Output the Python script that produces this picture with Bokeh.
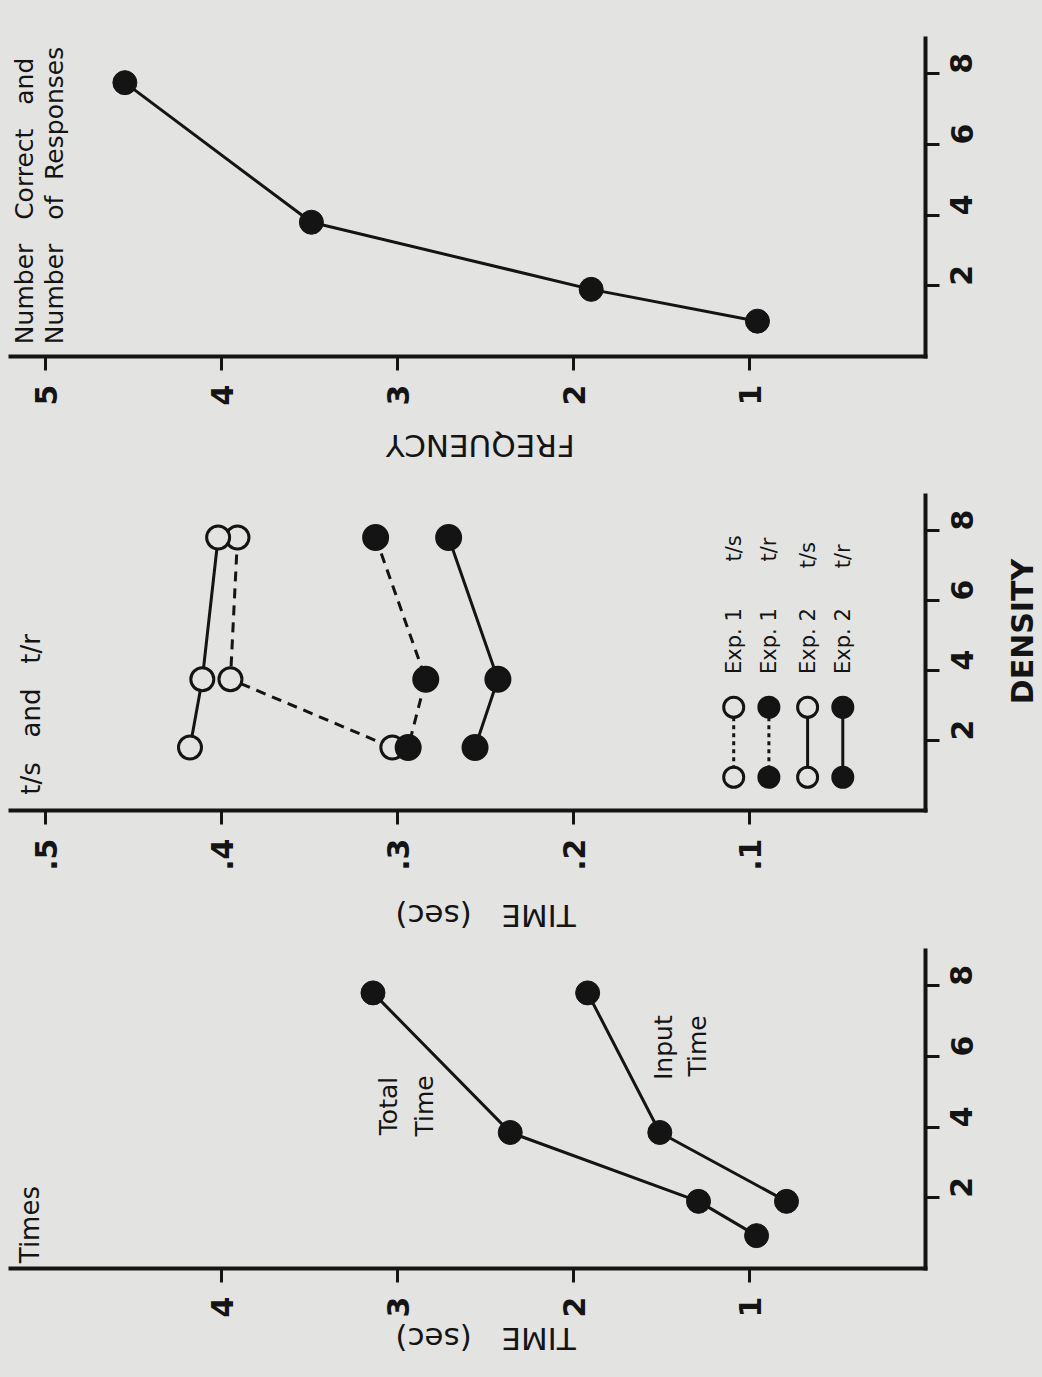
import math
from bokeh.plotting import figure
from bokeh.layouts import column, row
from bokeh.models import Range1d, FixedTicker, Label, CustomJSTickFormatter
from bokeh.embed import file_html
from bokeh.resources import INLINE

# ---------------- data ----------------
# Panel 1: Number Correct and Number of Responses vs density
freq_density = [7.75, 3.8, 1.9, 1.0]
freq_values = [4.55, 3.49, 1.90, 0.955]

# Panel 2: t/s and t/r (sec) vs density
ratio_density = [7.8, 3.75, 1.8]
exp1_ts = [0.391, 0.395, 0.303]
exp1_tr = [0.3125, 0.284, 0.294]
exp2_ts = [0.402, 0.411, 0.418]
exp2_tr = [0.271, 0.243, 0.256]

# Panel 3: Times (sec) vs density
total_density = [7.8, 3.85, 1.9, 0.93]
total_time = [3.14, 2.36, 1.29, 0.96]
input_density = [7.8, 3.85, 1.9]
input_time = [1.92, 1.51, 0.79]

density_ticks = [2, 4, 6, 8]
freq_ticks = [1, 2, 3, 4, 5]
ratio_ticks = [0.1, 0.2, 0.3, 0.4, 0.5]
time_ticks = [1, 2, 3, 4]

NB = "\u00a0"
legend_names = ["Exp. 1" + NB * 7 + "t/s",
                "Exp. 1" + NB * 7 + "t/r",
                "Exp. 2" + NB * 6 + "t/s",
                "Exp. 2" + NB * 6 + "t/r"]

# ---------------- style ----------------
BG = "#e3e3e1"
INK = "#141414"
FONT = "DejaVu Sans"


def panel(width, height, top, bottom, right, xmax, xticks):
    p = figure(width=width, height=height, x_range=Range1d(xmax, 0), y_range=Range1d(0, 9),
               y_axis_location="right", output_backend="svg", toolbar_location=None,
               min_border_left=10, min_border_right=right, min_border_top=top,
               min_border_bottom=bottom)
    p.background_fill_color = BG
    p.border_fill_color = BG
    p.outline_line_color = None
    p.grid.visible = False
    for ax in (p.xaxis[0], p.yaxis[0]):
        ax.axis_line_width = 4
        ax.axis_line_color = INK
        ax.axis_line_cap = "square"
        ax.major_tick_line_width = 3
        ax.major_tick_line_color = INK
        ax.major_tick_in = 0
        ax.major_tick_out = 14
        ax.minor_tick_line_color = None
        ax.major_label_text_font = FONT
        ax.major_label_text_font_size = "30px"
        ax.major_label_text_font_style = "bold"
        ax.major_label_text_color = INK
        ax.major_label_orientation = math.pi / 2
    xa = p.xaxis[0]
    xa.ticker = FixedTicker(ticks=xticks)
    xa.major_label_standoff = 14
    ya = p.yaxis[0]
    ya.ticker = FixedTicker(ticks=density_ticks)
    ya.major_label_standoff = 22
    return p


def strip(width, height):
    s = figure(width=width, height=height, x_range=Range1d(0, width), y_range=Range1d(0, height),
               x_axis_location=None, y_axis_location=None, output_backend="svg",
               toolbar_location=None, min_border=0)
    s.background_fill_color = BG
    s.border_fill_color = BG
    s.outline_line_color = None
    s.grid.visible = False
    return s


def txt(p, x, y, s, size="25px", align="center", angle=math.pi / 2, style="normal"):
    p.add_layout(Label(x=x, y=y, text=s, angle=angle, text_font=FONT,
                       text_font_size=size, text_color=INK, text_align=align,
                       text_baseline="middle", text_font_style=style))


# ---------------- panel 1 ----------------
p1 = panel(1042, 410, 38, 54, 117, 5.2, freq_ticks)
p1.line(freq_values, freq_density, line_color=INK, line_width=3)
p1.scatter(freq_values, freq_density, size=24, fill_color=INK, line_color=INK)
txt(p1, 5.12, 0.35, "Number" + NB * 3 + "Correct" + NB * 3 + "and", "25px", "left")
txt(p1, 4.95, 0.35, "Number" + NB * 3 + "of" + NB * 2 + "Responses", "25px", "left")

s1 = strip(1042, 60)
txt(s1, 535, 25, "FREQUENCY", "31px", angle=math.pi)

# ---------------- panel 2 ----------------
p2 = panel(1000, 403, 25, 60, 75, 0.52, ratio_ticks)
p2.xaxis[0].formatter = CustomJSTickFormatter(code="return tick.toFixed(1).replace(/^0/, '')")
series = [
    (exp1_ts, "10 7", False),
    (exp1_tr, "10 7", True),
    (exp2_ts, "solid", False),
    (exp2_tr, "solid", True),
]
for vals, dash, filled in series:
    p2.line(vals, ratio_density, line_color=INK, line_width=3, line_dash=dash)
for vals, dash, filled in series:
    p2.scatter(vals, ratio_density, size=23 if not filled else 24,
               fill_color=INK if filled else BG, line_color=INK, line_width=3)
txt(p2, 0.5085, 0.45, "t/s" + NB * 3 + "and" + NB * 3 + "t/r", "26px", "left")

# legend drawn in rotated form (layout constants)
LEG_X = [0.109, 0.089, 0.067, 0.047]
LEG_Y = [0.95, 2.95]
LEG_TEXT_Y = 3.9
for (vals, dash, filled), lx, name in zip(series, LEG_X, legend_names):
    p2.line([lx, lx], LEG_Y, line_color=INK, line_width=3,
            line_dash="4 4" if dash != "solid" else "solid")
    p2.scatter([lx, lx], LEG_Y, size=20, fill_color=INK if filled else BG,
               line_color=INK, line_width=3)
    txt(p2, lx, LEG_TEXT_Y, name, "21px", "left")

sd = strip(42, 403)
txt(sd, 22, 229, "DENSITY", "30px", style="bold")

s2 = strip(1042, 67)
txt(s2, 541, 25, "TIME" + NB * 3 + "(sec)", "31px", angle=math.pi)

# ---------------- panel 3 ----------------
p3 = panel(1042, 380, 10, 52, 117, 5.2, time_ticks)
p3.line(total_time, total_density, line_color=INK, line_width=3)
p3.line(input_time, input_density, line_color=INK, line_width=3)
p3.scatter(total_time, total_density, size=24, fill_color=INK, line_color=INK)
p3.scatter(input_time, input_density, size=24, fill_color=INK, line_color=INK)
txt(p3, 5.09, 0.15, "Times", "26px", "left")
txt(p3, 3.05, 4.6, "Total")
txt(p3, 2.85, 4.6, "Time")
txt(p3, 1.49, 6.25, "Input")
txt(p3, 1.295, 6.3, "Time")

s3 = strip(1042, 57)
txt(s3, 541, 39, "TIME" + NB * 3 + "(sec)", "31px", angle=math.pi)

layout = column(p1, s1, row(p2, sd, spacing=0), s2, p3, s3, spacing=0,
                styles={"background-color": BG})
open("out.html", "w").write(file_html(layout, INLINE))
